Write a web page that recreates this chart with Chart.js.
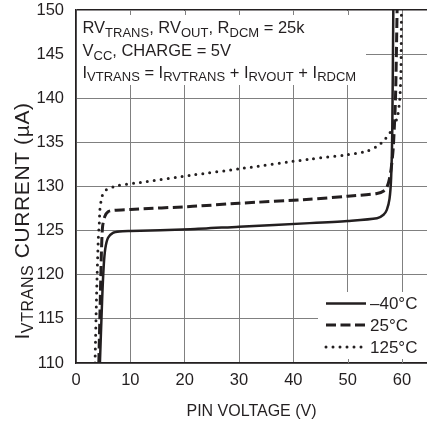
<!DOCTYPE html>
<html><head><meta charset="utf-8">
<script src="https://cdn.jsdelivr.net/npm/chart.js@4/dist/chart.umd.min.js"></script>
<style>html,body{margin:0;padding:0;background:#fff;overflow:hidden}</style>
</head><body>
<canvas id="c" width="427" height="421"></canvas>
<script>
// ---- data ----
const xTicks = [0, 10, 20, 30, 40, 50, 60];
const yTicks = [110, 115, 120, 125, 130, 135, 140, 145, 150];
const seriesLabels = ['\u201340\u00B0C', '25\u00B0C', '125\u00B0C'];

const vM40 = [4.4, 4.8, 5.1, 5.4, 5.9, 6.8, 8, 10, 21, 30, 43, 50, 55.4, 56.6, 57.2, 57.7, 58.0, 58.2, 58.4];
const iM40 = [110, 117, 121, 123, 124.2, 124.75, 124.9, 124.95, 125.15, 125.45, 125.85, 126.1, 126.4, 126.8, 127.35, 128.6, 131, 136, 150];

const v25 = [4.2, 4.5, 4.7, 4.9, 5.3, 5.9, 7, 10, 21.5, 30, 43, 50, 55.4, 56.9, 57.5, 58.0, 58.4, 58.8, 59.1];
const i25 = [110, 118, 123, 125.5, 126.6, 127.15, 127.3, 127.4, 127.75, 128.1, 128.55, 128.9, 129.2, 129.6, 130.4, 132, 134.5, 140, 150];

const v125 = [3.5, 3.8, 4.1, 4.3, 4.4, 4.8, 5.5, 7.7, 11.7, 21.5, 30, 43, 50, 53.5, 55.5, 56.8, 57.8, 58.6, 59.2, 59.6, 59.8, 59.9];
const i125 = [110, 118, 124, 126, 127.4, 128.9, 129.6, 130.1, 130.45, 131.3, 132, 133.1, 133.6, 134.0, 134.6, 135.3, 136.1, 137, 138, 140, 143, 150];

const noteLines = [
  [['RV', 0], ['TRANS', 1], [', RV', 0], ['OUT', 1], [', R', 0], ['DCM', 1], [' = 25k', 0]],
  [['V', 0], ['CC', 1], [', CHARGE = 5V', 0]],
  [['I', 0], ['VTRANS', 1], [' = I', 0], ['RVTRANS', 1], [' + I', 0], ['RVOUT', 1], [' + I', 0], ['RDCM', 1]]
];
const yTitleParts = [['I', 0], ['VTRANS', 1], [' CURRENT (\u00B5A)', 0]];
const xTitle = 'PIN VOLTAGE (V)';

const FONT = "'Liberation Sans', Arial, sans-serif";
const INK = '#231f20';
const GRID = '#808080';

function pts(xs, ys) { return xs.map((x, i) => ({ x: x, y: ys[i] })); }

function drawRich(ctx, parts, x, y, size, subSize, subDy) {
  let cx = x;
  for (const [t, sub] of parts) {
    ctx.font = (sub ? subSize : size) + 'px ' + FONT;
    ctx.fillText(t, cx, y + (sub ? subDy : 0));
    cx += ctx.measureText(t).width;
  }
  return cx - x;
}
function richWidth(ctx, parts, size, subSize) {
  let w = 0;
  for (const [t, sub] of parts) {
    ctx.font = (sub ? subSize : size) + 'px ' + FONT;
    w += ctx.measureText(t).width;
  }
  return w;
}

const annot = {
  id: 'annot',
  afterDraw(chart) {
    const ctx = chart.ctx, xs = chart.scales.x, ys = chart.scales.y, ca = chart.chartArea;
    ctx.save();
    // note box
    const nbL = Math.round(ca.left) + 1, nbT = Math.round(ca.top) + 1;
    const nbR = Math.round(xs.getPixelForValue(53.3)), nbB = Math.round(ys.getPixelForValue(141.5));
    ctx.fillStyle = '#fff';
    ctx.fillRect(nbL, nbT, nbR - nbL, nbB - nbT);
    // legend box
    const lbL = Math.round(xs.getPixelForValue(44.6)), lbT = Math.round(ys.getPixelForValue(118.0));
    const lbR = Math.ceil(ca.right) + 2, lbB = Math.round(ca.bottom) - 1;
    ctx.fillRect(lbL, lbT, lbR - lbL, lbB - lbT);
    // inner ticks
    ctx.strokeStyle = GRID; ctx.lineWidth = 1;
    for (const v of xTicks) {
      if (v === 0) continue;
      const px = Math.round(xs.getPixelForValue(v)) + 0.5;
      if (v <= 50) { ctx.beginPath(); ctx.moveTo(px, ca.top); ctx.lineTo(px, ca.top + 5); ctx.stroke(); }
      if (v >= 50) { ctx.beginPath(); ctx.moveTo(px, ca.bottom); ctx.lineTo(px, ca.bottom - 4); ctx.stroke(); }
    }
    // note text
    ctx.fillStyle = INK; ctx.textBaseline = 'alphabetic'; ctx.textAlign = 'left';
    const baselines = [33, 56, 77.5];
    noteLines.forEach((ln, i) => drawRich(ctx, ln, 82.5, baselines[i], 16.5, 13, 3.5));
    // legend
    const rows = [303.5, 325, 347];
    chart.data.datasets.forEach((ds, i) => {
      const y = rows[i];
      ctx.save();
      ctx.strokeStyle = ds.borderColor; ctx.lineWidth = ds.borderWidth;
      ctx.lineCap = ds.borderCapStyle || 'butt';
      ctx.setLineDash(ds.borderDash || []);
      ctx.beginPath(); ctx.moveTo(326, y); ctx.lineTo(i === 2 ? 362 : 366, y); ctx.stroke();
      ctx.restore();
      ctx.fillStyle = INK; ctx.font = '17px ' + FONT; ctx.textBaseline = 'middle';
      ctx.fillText(ds.label, 370, y + 1);
    });
    // y title
    ctx.textBaseline = 'alphabetic';
    ctx.letterSpacing = '0.6px';
    const w = richWidth(ctx, yTitleParts, 21, 16);
    ctx.translate(28.5, 221);
    ctx.rotate(-Math.PI / 2);
    drawRich(ctx, yTitleParts, -w / 2, 0, 21, 16, 4);
    ctx.restore();
  }
};

new Chart(document.getElementById('c'), {
  type: 'line',
  data: {
    datasets: [
      { label: seriesLabels[0], data: pts(vM40, iM40), borderColor: INK, borderWidth: 2.5, tension: 0.25, pointRadius: 0 },
      { label: seriesLabels[1], data: pts(v25, i25), borderColor: INK, borderWidth: 3, borderDash: [10, 4.5], tension: 0.25, pointRadius: 0 },
      { label: seriesLabels[2], data: pts(v125, i125), borderColor: INK, borderWidth: 3, borderDash: [0, 7], borderCapStyle: 'round', tension: 0.25, pointRadius: 0 }
    ]
  },
  options: {
    responsive: false, animation: false, devicePixelRatio: 1,
    layout: { padding: { top: 10, right: 0, left: 0, bottom: 0 } },
    plugins: { legend: { display: false }, tooltip: { enabled: false } },
    scales: {
      x: {
        type: 'linear', min: 0, max: 64.6,
        afterBuildTicks: s => { s.ticks = xTicks.map(v => ({ value: v })); },
        afterFit: s => { s.height = 58; s.paddingLeft = 0; s.paddingRight = 0; },
        grid: { color: GRID, lineWidth: 1, drawTicks: false },
        border: { color: INK, width: 1.5 },
        ticks: { padding: 8, color: INK, maxRotation: 0, font: { family: FONT, size: 16.5 } },
        title: { display: true, text: xTitle, color: INK, font: { family: FONT, size: 16 }, padding: { top: 0, bottom: 0 } }
      },
      y: {
        min: 110, max: 150,
        afterBuildTicks: s => { s.ticks = yTicks.map(v => ({ value: v })); },
        afterFit: s => { s.width = 76; s.paddingTop = 0; s.paddingBottom = 0; },
        grid: { color: c => (c.tick && c.tick.value === 150) ? INK : GRID, lineWidth: c => (c.tick && c.tick.value === 150) ? 1.5 : 1, drawTicks: false },
        border: { color: INK, width: 1.5 },
        ticks: { padding: 12, color: INK, font: { family: FONT, size: 16.5 } }
      }
    }
  },
  plugins: [annot]
});
</script>
</body></html>
